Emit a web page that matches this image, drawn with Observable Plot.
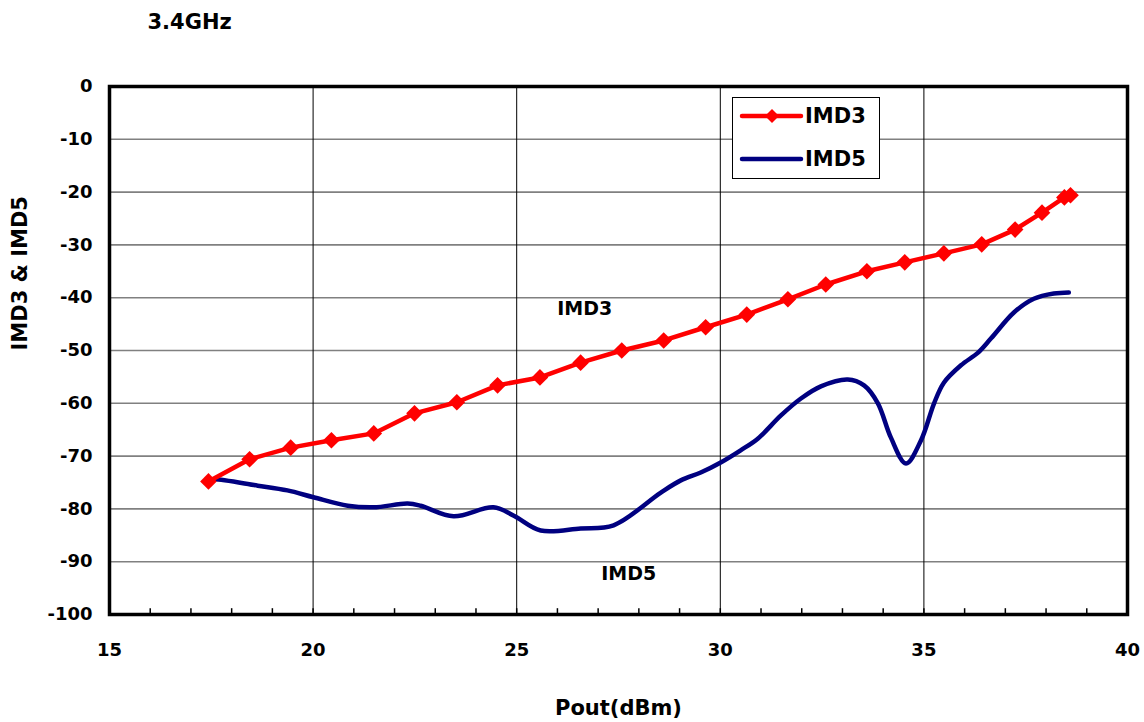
<!DOCTYPE html>
<html>
<head>
<meta charset="utf-8">
<script src="https://cdn.jsdelivr.net/npm/d3@7"></script>
<script src="https://cdn.jsdelivr.net/npm/@observablehq/plot@0.6"></script>
<style>
  html, body { margin: 0; padding: 0; background: #fff; }
  #wrap { position: relative; width: 1144px; height: 722px; }
  #legend { position: absolute; left: 732px; top: 97px; width: 146px; height: 80px;
    border: 1px solid #000; background: #fff; font-family: "DejaVu Sans", sans-serif; font-weight: bold; font-size: 21px; }
  #legend .row { position: absolute; left: 0; display: flex; align-items: center; }
  #legend svg { display: block; }
</style>
</head>
<body>
<div id="wrap"></div>
<script>
const titleText = "3.4GHz";
const xLabel = "Pout(dBm)";
const yLabel = "IMD3 & IMD5";
const xTicks = [15, 20, 25, 30, 35, 40];
const yTicks = [0, -10, -20, -30, -40, -50, -60, -70, -80, -90, -100];

const imd3X = [17.43, 18.44, 19.45, 20.45, 21.49, 22.49, 23.53, 24.53, 25.57, 26.57, 27.58, 28.61, 29.64, 30.65, 31.66, 32.59, 33.6, 34.53, 35.49, 36.42, 37.24, 37.9, 38.45, 38.6];
const imd3Y = [-74.8, -70.6, -68.4, -67.0, -65.7, -61.9, -59.8, -56.6, -55.1, -52.3, -50.0, -48.1, -45.6, -43.2, -40.3, -37.5, -35.0, -33.3, -31.6, -29.9, -27.1, -23.9, -21.0, -20.6];

const imd5X = [17.43, 17.56, 18.64, 19.37, 20.01, 20.85, 21.49, 22.32, 22.64, 23.45, 24.43, 24.93, 25.59, 26.57, 27.38, 28.54, 29.03, 29.52, 30.01, 30.5, 30.92, 31.49, 31.98, 32.47, 33.13, 33.53, 33.87, 34.19, 34.56, 34.93, 35.25, 35.49, 35.91, 36.33, 36.65, 37.21, 37.7, 38.19, 38.56];
const imd5Y = [-74.6, -74.4, -75.6, -76.5, -77.8, -79.4, -79.7, -79.0, -79.4, -81.4, -79.7, -81.3, -84.1, -83.7, -83.1, -76.9, -74.6, -73.1, -71.2, -68.9, -66.7, -62.3, -59.1, -56.8, -55.5, -56.6, -60.0, -66.5, -71.4, -67.0, -60.0, -56.1, -52.8, -50.4, -47.7, -42.8, -40.2, -39.2, -39.0];

const annotations = [
  {x: 26.67, y: -42.2, text: "IMD3"},
  {x: 27.75, y: -92.4, text: "IMD5"}
];

const imd3 = imd3X.map((x, i) => ({x, y: imd3Y[i]}));
const imd5 = imd5X.map((x, i) => ({x, y: imd5Y[i]}));
const minorTicks = d3.range(16, 40);

const FONT = "DejaVu Sans, sans-serif";

const chart = Plot.plot({
  width: 1144,
  height: 722,
  marginLeft: 109,
  marginRight: 17,
  marginTop: 86,
  marginBottom: 108,
  style: {fontFamily: FONT, fontWeight: "bold", background: "#fff", color: "#000"},
  x: {domain: [15, 40]},
  y: {domain: [-100, 0]},
  marks: [
    Plot.ruleY(yTicks.filter(d => d !== 0 && d !== -100), {stroke: "#808080", strokeWidth: 1.6}),
    Plot.ruleX([20, 25, 30, 35], {stroke: "#000", strokeWidth: 1}),
    Plot.ruleX(minorTicks, {y1: -100, y2: -98.9, stroke: "#000", strokeWidth: 1.5}),
    Plot.axisX({ticks: xTicks, tickSize: 0, tickPadding: 29, fontSize: 18, label: null, tickFormat: d => String(d)}),
    Plot.axisY({ticks: yTicks, tickSize: 0, tickPadding: 17, fontSize: 18, label: null, tickFormat: d => String(d)}),
    Plot.line(imd5, {x: "x", y: "y", stroke: "#000080", strokeWidth: 4.5, curve: "catmull-rom"}),
    Plot.line(imd3, {x: "x", y: "y", stroke: "#ff0000", strokeWidth: 4.5}),
    Plot.dot(imd3, {x: "x", y: "y", symbol: "diamond2", r: 7.5, fill: "#ff0000", stroke: "none"}),
    Plot.text(annotations, {x: "x", y: "y", text: "text", fontSize: 19, fontWeight: "bold", fill: "#000"}),
    Plot.frame({stroke: "#000", strokeWidth: 3.5}),
    Plot.text([titleText], {frameAnchor: "top-left", dx: 38, dy: -64, lineAnchor: "middle", text: d => d, textAnchor: "start", fontSize: 21, fontWeight: "bold", fill: "#000"}),
    Plot.text([xLabel], {frameAnchor: "bottom", dy: 94, lineAnchor: "middle", text: d => d, fontSize: 21, fontWeight: "bold", fill: "#000"}),
    Plot.text([yLabel], {frameAnchor: "left", dx: -89, rotate: -90, text: d => d, fontSize: 21, fontWeight: "bold", fill: "#000"})
  ]
});

const wrap = document.getElementById("wrap");
wrap.appendChild(chart);

const legendItems = [
  {name: "IMD3", color: "#ff0000", marker: true},
  {name: "IMD5", color: "#000080", marker: false}
];
const legend = document.createElement("div");
legend.id = "legend";
legendItems.forEach((it, i) => {
  const row = document.createElement("div");
  row.className = "row";
  row.style.top = (i === 0 ? 5 : 48) + "px";
  row.style.left = "6px";
  const svgNS = "http://www.w3.org/2000/svg";
  const s = document.createElementNS(svgNS, "svg");
  s.setAttribute("width", "66");
  s.setAttribute("height", "26");
  const ln = document.createElementNS(svgNS, "line");
  ln.setAttribute("x1", "3"); ln.setAttribute("x2", "62");
  ln.setAttribute("y1", "13"); ln.setAttribute("y2", "13");
  ln.setAttribute("stroke", it.color); ln.setAttribute("stroke-width", "4.5");
  ln.setAttribute("stroke-linecap", "round");
  s.appendChild(ln);
  if (it.marker) {
    const p = document.createElementNS(svgNS, "path");
    p.setAttribute("d", "M33,6 L40,13 L33,20 L26,13 Z");
    p.setAttribute("fill", it.color);
    s.appendChild(p);
  }
  const t = document.createElement("span");
  t.textContent = it.name;
  t.style.marginLeft = "0px";
  row.appendChild(s);
  row.appendChild(t);
  legend.appendChild(row);
});
wrap.appendChild(legend);
</script>
</body>
</html>
